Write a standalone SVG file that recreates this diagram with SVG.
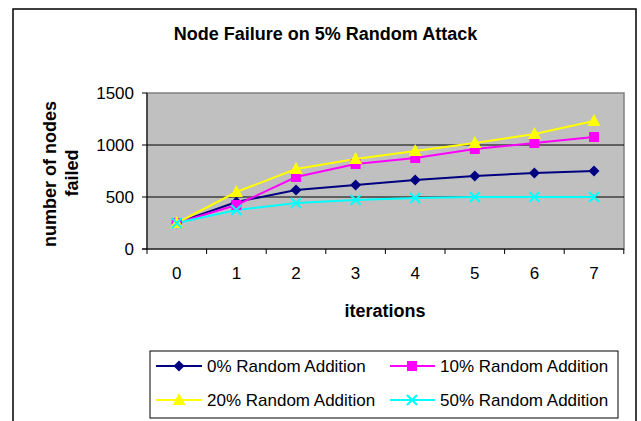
<svg xmlns="http://www.w3.org/2000/svg" width="641" height="421" viewBox="0 0 641 421">
<style>
text{font-family:"Liberation Sans",Arial,sans-serif;fill:#000}
.title{font-size:18px;font-weight:bold}
.axt{font-size:18px;font-weight:bold}
.tick{font-size:17px}
.leg{font-size:17px}
.grid{stroke:#000;stroke-width:1}
.s0{fill:none;stroke:#000080;stroke-width:2}
.s1{fill:none;stroke:#FF00FF;stroke-width:2}
.s2{fill:none;stroke:#FFFF00;stroke-width:2}
.s3{fill:none;stroke:#00FFFF;stroke-width:2}
</style>
<defs>
<path id="dia" d="M0,-5.5L5.5,0L0,5.5L-5.5,0Z" fill="#000080"/>
<rect id="sq" x="-5" y="-5" width="10" height="10" fill="#FF00FF"/>
<path id="tri" d="M0,-7L6.5,5L-6.5,5Z" fill="#FFFF00"/>
<path id="xx" d="M-5,-5L5,5M-5,5L5,-5" stroke="#00FFFF" stroke-width="2" fill="none"/>
</defs>
<rect x="0" y="0" width="641" height="421" fill="#fff"/>
<rect x="13" y="9" width="623" height="430" fill="#fff" stroke="#000" stroke-width="1.5"/>
<text class="title" x="325.5" y="40" text-anchor="middle">Node Failure on 5% Random Attack</text>
<g id="plot">
<rect x="147" y="93" width="477" height="156" fill="#C0C0C0" stroke="#808080" stroke-width="1.5"/>
<line class="grid" x1="147" y1="145" x2="624" y2="145"/>
<line class="grid" x1="147" y1="197" x2="624" y2="197"/>
<line x1="147" y1="93" x2="147" y2="249" stroke="#000" stroke-width="1"/>
<line x1="142" y1="249" x2="624" y2="249" stroke="#000" stroke-width="1"/>
<path d="M142,93H147M142,145H147M142,197H147M142,249H147" stroke="#000"/>
<path d="M147,249V254M206.6,249V254M266.2,249V254M325.8,249V254M385.4,249V254M445,249V254M504.6,249V254M564.2,249V254M623.8,249V254" stroke="#000"/>
</g>
<g id="yticks" class="tick">
<text class="tick" x="134" y="99" text-anchor="end">1500</text>
<text class="tick" x="134" y="151" text-anchor="end">1000</text>
<text class="tick" x="134" y="203" text-anchor="end">500</text>
<text class="tick" x="134" y="255" text-anchor="end">0</text>
</g>
<g id="xticks">
<text class="tick" x="176.8" y="279" text-anchor="middle">0</text>
<text class="tick" x="236.4" y="279" text-anchor="middle">1</text>
<text class="tick" x="296" y="279" text-anchor="middle">2</text>
<text class="tick" x="355.6" y="279" text-anchor="middle">3</text>
<text class="tick" x="415.2" y="279" text-anchor="middle">4</text>
<text class="tick" x="474.8" y="279" text-anchor="middle">5</text>
<text class="tick" x="534.4" y="279" text-anchor="middle">6</text>
<text class="tick" x="594" y="279" text-anchor="middle">7</text>
</g>
<text class="axt" x="385" y="317" text-anchor="middle">iterations</text>
<text class="axt" transform="translate(55.5,174) rotate(-90)" text-anchor="middle">number of nodes</text>
<text class="axt" transform="translate(77.5,173) rotate(-90)" text-anchor="middle">failed</text>
<g id="connectors">
<polyline class="s0" points="176.8,223 236.4,202 296,190 355.6,185 415.2,180 474.8,176 534.4,173 594,171"/>
<polyline class="s1" points="176.8,223 236.4,205 296,177 355.6,164 415.2,158 474.8,149 534.4,143 594,137"/>
<polyline class="s2" points="176.8,223 236.4,192 296,169 355.6,159 415.2,151 474.8,143 534.4,134 594,121"/>
<polyline class="s3" points="176.8,223 236.4,210 296,203 355.6,200 415.2,198 474.8,197 534.4,197 594,197"/>
</g>
<g id="series0">
<use href="#dia" x="176.8" y="223"/><use href="#dia" x="236.4" y="202"/><use href="#dia" x="296" y="190"/><use href="#dia" x="355.6" y="185"/><use href="#dia" x="415.2" y="180"/><use href="#dia" x="474.8" y="176"/><use href="#dia" x="534.4" y="173"/><use href="#dia" x="594" y="171"/>
</g>
<g id="series1">
<use href="#sq" x="176.8" y="223"/><use href="#sq" x="236.4" y="205"/><use href="#sq" x="296" y="177"/><use href="#sq" x="355.6" y="164"/><use href="#sq" x="415.2" y="158"/><use href="#sq" x="474.8" y="149"/><use href="#sq" x="534.4" y="143"/><use href="#sq" x="594" y="137"/>
</g>
<g id="series2">
<use href="#tri" x="176.8" y="223"/><use href="#tri" x="236.4" y="192"/><use href="#tri" x="296" y="169"/><use href="#tri" x="355.6" y="159"/><use href="#tri" x="415.2" y="151"/><use href="#tri" x="474.8" y="143"/><use href="#tri" x="534.4" y="134"/><use href="#tri" x="594" y="121"/>
</g>
<g id="series3">
<use href="#xx" x="176.8" y="223"/><use href="#xx" x="236.4" y="210"/><use href="#xx" x="296" y="203"/><use href="#xx" x="355.6" y="200"/><use href="#xx" x="415.2" y="198"/><use href="#xx" x="474.8" y="197"/><use href="#xx" x="534.4" y="197"/><use href="#xx" x="594" y="197"/>
</g>
<g id="legend">
<rect x="150" y="351" width="468" height="67" fill="#fff" stroke="#000" stroke-width="1"/>
<line class="s0" x1="156" y1="366" x2="202" y2="366"/><use href="#dia" x="179" y="366"/>
<text class="leg" x="207" y="372">0% Random Addition</text>
<line class="s1" x1="390" y1="366" x2="435" y2="366"/><use href="#sq" x="412" y="366"/>
<text class="leg" x="440" y="372">10% Random Addition</text>
<line class="s2" x1="156" y1="400" x2="202" y2="400"/><use href="#tri" x="179" y="400"/>
<text class="leg" x="207" y="406">20% Random Addition</text>
<line class="s3" x1="390" y1="400" x2="435" y2="400"/><use href="#xx" x="412" y="400"/>
<text class="leg" x="440" y="406">50% Random Addition</text>
</g>
</svg>
